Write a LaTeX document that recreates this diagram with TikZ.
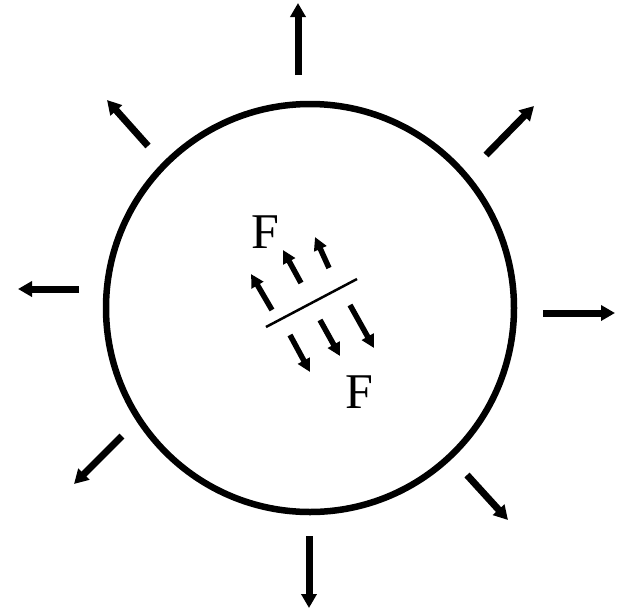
\documentclass[tikz,border=0pt]{standalone}
\usepackage{fontspec}
\setmainfont{Liberation Serif}
\usetikzlibrary{arrows.meta}
\begin{document}
\begin{tikzpicture}[x=1pt,y=-1pt,
  outarrow/.style={line width=7pt,-{Triangle[length=14pt,width=15pt]}},
  inarrow/.style={line width=5.5pt,-{Triangle[length=13pt,width=13pt]}},
  lbl/.style={font=\fontsize{50}{50}\selectfont,inner sep=0pt}]
\useasboundingbox (0,0) rectangle (621,611);
\node[circle,draw,line width=6.5pt,minimum size=408pt,inner sep=0pt] (c) at (310,308) {};
% outer arrows
\coordinate (t1) at (298,75);  \coordinate (t2) at (298,3);
\coordinate (b1) at (309,536); \coordinate (b2) at (309,608);
\coordinate (l1) at (79,289);  \coordinate (l2) at (18,289);
\coordinate (r1) at (543,313); \coordinate (r2) at (615,313);
\coordinate (ul1) at (148,146); \coordinate (ul2) at (107,100);
\coordinate (ur1) at (486,155); \coordinate (ur2) at (534,106);
\coordinate (ll1) at (122,436); \coordinate (ll2) at (74,484);
\coordinate (lr1) at (467,475); \coordinate (lr2) at (508,520);
\foreach \a in {t,b,l,r,ul,ur,ll,lr} \draw[outarrow] (\a1) -- (\a2);
% inner line
\coordinate (s1) at (266,327); \coordinate (s2) at (357,279);
\draw[line width=2.5pt] (s1) -- (s2);
% inner arrows
\coordinate (u11) at (272,310); \coordinate (u12) at (251,274);
\coordinate (u21) at (301,283); \coordinate (u22) at (283,250);
\coordinate (u31) at (329,268); \coordinate (u32) at (315,237);
\coordinate (d11) at (290,335); \coordinate (d12) at (310,372);
\coordinate (d21) at (320,320); \coordinate (d22) at (340,356);
\coordinate (d31) at (350,305); \coordinate (d32) at (374,348);
\foreach \a in {u1,u2,u3,d1,d2,d3} \draw[inarrow] (\a1) -- (\a2);
\node[lbl] (f1) at (265,232) {F};
\node[lbl] (f2) at (359,392) {F};
\end{tikzpicture}
\end{document}
